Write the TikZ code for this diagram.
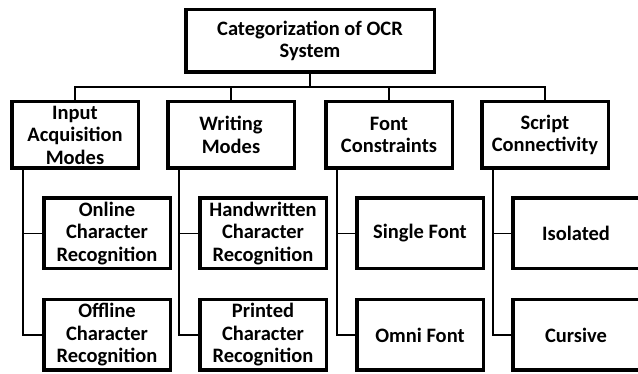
\documentclass[tikz,border=0pt]{standalone}
\usepackage{fontspec}
\setmainfont{Carlito}
\usetikzlibrary{calc}

\tikzset{every picture/.style={line width=1.8pt}}
\tikzset{
  catbox/.style={draw, line width=3.5pt, align=center, inner sep=1pt,
    font=\bfseries\fontsize{20.5}{22.5}\selectfont},
  headbox/.style={catbox, minimum width=248.5, minimum height=62.5},
  modebox/.style={catbox, minimum width=126.5, minimum height=66.5},
  leafbox/.style={catbox, minimum width=126.5, minimum height=70.5}
}

\begin{document}
\begin{tikzpicture}[x=1pt,y=1pt,yscale=-1,xscale=1]
\useasboundingbox (0,0) rectangle (638,374);

% Root node
\node [headbox] (root) at (310,41) {Categorization of OCR\\System};

% Category nodes
\node [modebox] (inp) at (75,135) {Input\\Acquisition\\Modes};
\node [modebox] (wri) at (231,135) {Writing\\Modes};
\node [modebox] (fon) at (389,135) {Font\\Constraints};
\node [modebox] (scr) at (545,135) {Script\\Connectivity};

% Leaf nodes
\node [leafbox] (onl) at (107,233.5) {Online\\Character\\Recognition};
\node [leafbox] (off) at (107,335) {Offline\\Character\\Recognition};
\node [leafbox] (hand) at (263,233.5) {Handwritten\\Character\\Recognition};
\node [leafbox] (prin) at (263,335) {Printed\\Character\\Recognition};
\node [leafbox] (sing) at (420,233.5) {Single Font};
\node [leafbox] (omni) at (420,335) {Omni Font};
\node [leafbox] (iso) at (576,233.5) {Isolated};
\node [leafbox] (cur) at (576,335) {Cursive};

% Bus below the root
\coordinate (bus) at (310,87);
\draw (root.south) -- (bus);
\draw (inp.north) |- (bus) -| (scr.north);
\draw (wri.north) -- (wri.north |- bus);
\draw (fon.north) -- (fon.north |- bus);

% Branches down to the leaves
\coordinate (inpS) at ([xshift=13]inp.south west);
\coordinate (wriS) at ([xshift=13]wri.south west);
\coordinate (fonS) at ([xshift=13]fon.south west);
\coordinate (scrS) at ([xshift=13]scr.south west);
\draw (inpS) |- (onl.west);
\draw (inpS) |- (off.west);
\draw (wriS) |- (hand.west);
\draw (wriS) |- (prin.west);
\draw (fonS) |- (sing.west);
\draw (fonS) |- (omni.west);
\draw (scrS) |- (iso.west);
\draw (scrS) |- (cur.west);

\end{tikzpicture}
\end{document}
